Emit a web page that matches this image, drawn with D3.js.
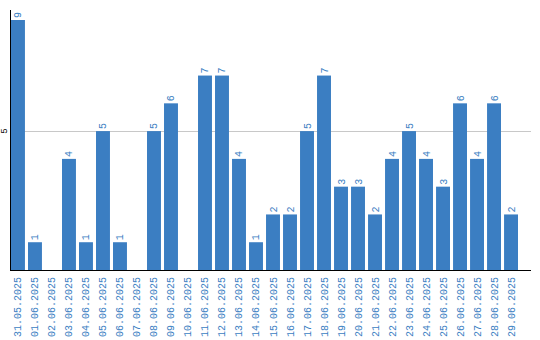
<!DOCTYPE html>
<html><head><meta charset="utf-8">
<script src="https://cdn.jsdelivr.net/npm/d3@7"></script>
<style>body{margin:0;background:#fff}svg{display:block}</style>
</head><body>
<script>
const categories = ["31.05.2025","01.06.2025","02.06.2025","03.06.2025","04.06.2025","05.06.2025","06.06.2025","07.06.2025","08.06.2025","09.06.2025","10.06.2025","11.06.2025","12.06.2025","13.06.2025","14.06.2025","15.06.2025","16.06.2025","17.06.2025","18.06.2025","19.06.2025","20.06.2025","21.06.2025","22.06.2025","23.06.2025","24.06.2025","25.06.2025","26.06.2025","27.06.2025","28.06.2025","29.06.2025"];
const values = [9,1,0,4,1,5,1,0,5,6,0,7,7,4,1,2,2,5,7,3,3,2,4,5,4,3,6,4,6,2];
const yTicks = [5];

const W = 540, H = 340;
const blue = "#3b7ec2";
const font = "Liberation Mono, DejaVu Sans Mono, monospace";
const svg = d3.select("body").append("svg").attr("width", W).attr("height", H);

const x = d3.scaleBand().domain(categories).range([11, 518]).paddingInner(0.18).paddingOuter(0);
const y = d3.scaleLinear().domain([0, 9]).range([270, 20]);

// gridlines
svg.selectAll(".grid").data(yTicks).join("line")
  .attr("x1", 11).attr("x2", 531)
  .attr("y1", d => Math.round(y(d)) + 0.5).attr("y2", d => Math.round(y(d)) + 0.5)
  .attr("stroke", "#c8c8c8").attr("stroke-width", 1);

// y tick labels
svg.selectAll(".yl").data(yTicks).join("text")
  .attr("transform", d => `translate(7,${y(d)}) rotate(-90)`)
  .attr("text-anchor", "middle")
  .attr("font-family", font).attr("font-size", 9)
  .attr("fill", "#000").text(d => d);

// bars
svg.selectAll(".bar").data(values).join("rect")
  .attr("x", (d, i) => x(categories[i]))
  .attr("width", x.bandwidth())
  .attr("y", d => y(d))
  .attr("height", d => y(0) - y(d))
  .attr("fill", blue);

// value labels
svg.selectAll(".vl").data(values.map((v, i) => ({v, i})).filter(d => d.v > 0)).join("text")
  .attr("transform", d => `translate(${x(categories[d.i]) + x.bandwidth() / 2 + 3.5},${y(d.v) - 2}) rotate(-90)`)
  .attr("text-anchor", "start")
  .attr("font-family", font).attr("font-size", 10)
  .attr("fill", blue).text(d => d.v);

// x labels
svg.selectAll(".xl").data(categories).join("text")
  .attr("transform", d => `translate(${x(d) + x.bandwidth() / 2 + 3.5},277) rotate(-90)`)
  .attr("text-anchor", "end")
  .attr("font-family", font).attr("font-size", 10)
  .attr("fill", blue).text(d => d);

// axes lines
svg.append("line").attr("x1", 10.5).attr("x2", 10.5).attr("y1", 10).attr("y2", 271)
  .attr("stroke", "#000").attr("stroke-width", 1);
svg.append("line").attr("x1", 10).attr("x2", 531).attr("y1", 270.5).attr("y2", 270.5)
  .attr("stroke", "#000").attr("stroke-width", 1);
</script>
</body></html>
